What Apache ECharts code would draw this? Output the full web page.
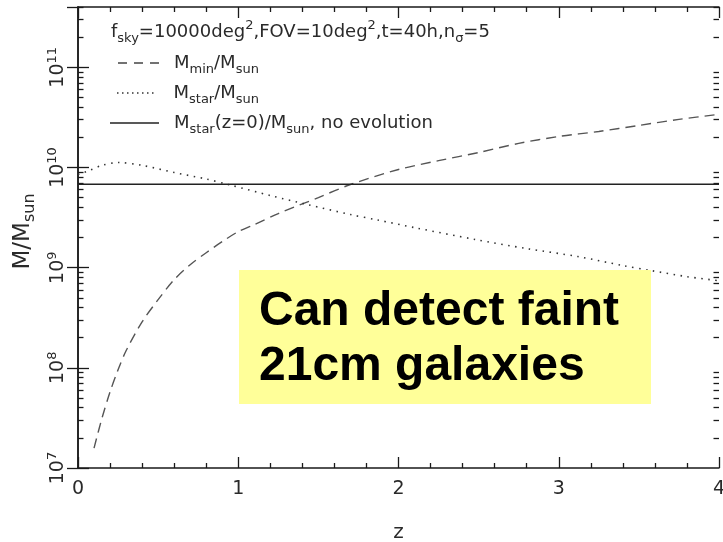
<!DOCTYPE html>
<html><head><meta charset="utf-8">
<script src="https://cdn.jsdelivr.net/npm/echarts@6/dist/echarts.min.js"></script>
<style>html,body{margin:0;padding:0;background:#fff}#c{width:723px;height:542px}</style>
</head><body><div id="c"></div>
<script>
// ---- data ----
const zMin = [0.1,0.15,0.2,0.25,0.3,0.4,0.5,0.6,0.7,0.8,0.9,1.0,1.1,1.25,1.5,1.7,2.0,2.25,2.5,2.75,3.0,3.25,3.5,3.75,4.0];
const mMin = [1.58e7,3.16e7,5.75e7,9.55e7,1.48e8,2.88e8,4.79e8,7.59e8,1.07e9,1.41e9,1.82e9,2.29e9,2.69e9,3.47e9,5.01e9,6.76e9,9.55e9,1.17e10,1.41e10,1.74e10,2.04e10,2.29e10,2.63e10,3.02e10,3.39e10];
const zStar = [0.0,0.07,0.15,0.25,0.4,0.6,0.8,0.95,1.2,1.43,1.7,1.87,2.1,2.48,2.8,3.12,3.4,3.58,3.8,4.0];
const mStar = [8.51e9,9.33e9,1.05e10,1.12e10,1.05e10,8.91e9,7.67e9,6.68e9,5.25e9,4.27e9,3.39e9,2.99e9,2.51e9,1.91e9,1.55e9,1.29e9,1.05e9,9.33e8,8.13e8,7.41e8];
const zFlat = [0, 4];
const mFlat = [6.8e9, 6.8e9];
const xTicks = [0, 1, 2, 3, 4];
const yMinVal = 1e7, yMaxVal = 4e11;
const seriesNames = ['Mmin', 'Mstar', 'Mstar0'];
const legendLabels = {
  Mmin: '{f|M}{sb|min}{n|/M}{sb|sun}',
  Mstar: '{f|M}{sb|star}{n|/M}{sb|sun}',
  Mstar0: '{f|M}{sb|star}{n|(z=0)/M}{sb|sun}{n|, no evolution}'
};
const headerText = '{n|f}{sb|sky}{n|=10000deg}{sp|2}{n|,FOV=10deg}{sp|2}{n|,t=40h,n}{sb|σ}{n|=5}';
const boxLines = ['Can detect faint', '21cm galaxies'];

// ---- helpers ----
const FF = 'DejaVu Sans';
const TXT = '#2a2a2a';
const AX = '#1a1a1a';
const pair = (xs, ys) => xs.map((x, i) => [x, ys[i]]);
const minorLogs = [];
for (let d = 7; d <= 11; d++) for (let k = 2; k <= 9; k++) {
  const v = Math.log10(k) + d;
  if (v <= Math.log10(yMaxVal) + 1e-9) minorLogs.push(v);
}
function dotsPath(n, step, w) {
  let p = 'path://';
  for (let i = 0; i < n; i++) p += 'M' + (i * step) + ',0h' + w + 'v1h-' + w + 'z';
  return p;
}
const legendRich = (padLeft) => ({
  f: {fontFamily: FF, fontSize: 18, fontWeight: 'normal', lineHeight: 26, color: TXT, padding: [0, 0, 0, padLeft]},
  n: {fontFamily: FF, fontSize: 18, fontWeight: 'normal', lineHeight: 26, color: TXT},
  sb: {fontFamily: FF, fontSize: 13, fontWeight: 'normal', lineHeight: 10, verticalAlign: 'bottom', color: TXT}
});
function mkLegend(name, icon, left, top, w, pad, color) {
  return {
    data: [{name: name, icon: icon, itemStyle: {color: color}}],
    left: left, top: top, padding: 0, itemWidth: w, itemHeight: 1.5,
    symbolKeepAspect: false, selectedMode: false,
    formatter: n => legendLabels[n],
    textStyle: {rich: legendRich(pad)}
  };
}
const tickStyle = {color: AX, width: 1.3};
function xAxisDef(pos, showLabel) {
  return {
    type: 'value', min: 0, max: 4, interval: 1, position: pos,
    axisLine: {show: true, lineStyle: {color: AX, width: 1.5}},
    axisTick: {show: true, inside: true, length: 11, lineStyle: tickStyle},
    minorTick: {show: true, splitNumber: 5, length: 5, lineStyle: tickStyle},
    splitLine: {show: false}, minorSplitLine: {show: false},
    axisLabel: {show: showLabel, margin: 12, fontSize: 19, color: TXT, fontFamily: FF,
      formatter: v => xTicks.indexOf(v) >= 0 ? String(v) : ''},
    name: showLabel ? 'z' : '', nameLocation: 'middle', nameGap: 55,
    nameTextStyle: {fontSize: 20, color: TXT, fontFamily: FF}
  };
}
function yLogDef(pos, showLabel) {
  return {
    type: 'log', logBase: 10, min: yMinVal, max: yMaxVal, position: pos,
    axisLine: {show: true, lineStyle: {color: AX, width: 1.5}},
    axisTick: {show: true, inside: true, length: 11, lineStyle: tickStyle},
    splitLine: {show: false},
    axisLabel: {show: showLabel, rotate: 90, margin: 8, showMaxLabel: false,
      formatter: v => {
        const e = v > 1000 ? Math.log10(v) : v;
        if (Math.abs(e - Math.round(e)) > 0.01) return '';
        return '{b|10}{s|' + Math.round(e) + '}';
      },
      rich: {
        b: {fontFamily: FF, fontSize: 19, lineHeight: 24, color: TXT},
        s: {fontFamily: FF, fontSize: 13, lineHeight: 10, verticalAlign: 'top', color: TXT}
      }},
    name: showLabel ? '{f|M/M}{sb|sun}' : '', nameLocation: 'middle', nameGap: 39,
    nameTextStyle: {rich: {
      f: {fontFamily: FF, fontSize: 23, lineHeight: 30, color: TXT, padding: [0, 0, 0, 12]},
      sb: {fontFamily: FF, fontSize: 16, lineHeight: 11, verticalAlign: 'bottom', color: TXT}
    }}
  };
}
function yMinorDef(pos) {
  return {
    type: 'value', min: 7, max: Math.log10(yMaxVal), position: pos,
    axisLine: {show: false}, splitLine: {show: false}, axisLabel: {show: false},
    axisTick: {show: true, inside: true, length: 5.5, lineStyle: tickStyle, customValues: minorLogs}
  };
}

const chart = echarts.init(document.getElementById('c'), null, {renderer: 'canvas'});
chart.setOption({
  animation: false,
  backgroundColor: '#fff',
  textStyle: {fontFamily: FF},
  grid: {left: 78, right: 4, top: 7, bottom: 74, containLabel: false, outerBoundsMode: 'none'},
  title: {
    text: headerText, left: 111, top: 19.5, padding: 0,
    textStyle: {fontWeight: 'normal', fontSize: 18, fontFamily: FF, color: TXT, rich: {
      n: {fontFamily: FF, fontSize: 18, fontWeight: 'normal', lineHeight: 26, color: TXT},
      sb: {fontFamily: FF, fontSize: 13, fontWeight: 'normal', lineHeight: 10, verticalAlign: 'bottom', color: TXT},
      sp: {fontFamily: FF, fontSize: 13, fontWeight: 'normal', lineHeight: 10, verticalAlign: 'top', color: TXT}
    }}
  },
  legend: [
    mkLegend('Mmin', 'path://M0,0h9v1h-9zM16,0h9v1h-9zM32,0h9v1h-9z', 118, 54, 41, 10, '#444'),
    mkLegend('Mstar', dotsPath(8, 5, 1.5), 117, 84, 36.5, 15, '#333'),
    mkLegend('Mstar0', 'path://M0,0h49v1h-49z', 110, 114, 49, 10, '#222')
  ],
  xAxis: [xAxisDef('bottom', true), xAxisDef('top', false)],
  yAxis: [yLogDef('left', true), yLogDef('right', false), yMinorDef('left'), yMinorDef('right')],
  series: [
    {name: seriesNames[0], type: 'line', xAxisIndex: 0, yAxisIndex: 0, data: pair(zMin, mMin),
     symbol: 'none', showSymbol: false, smooth: 0.3, silent: true,
     lineStyle: {color: '#555', width: 1.4, type: [10, 6]}, itemStyle: {color: '#555'}},
    {name: seriesNames[1], type: 'line', xAxisIndex: 0, yAxisIndex: 0, data: pair(zStar, mStar),
     symbol: 'none', showSymbol: false, smooth: 0.3, silent: true,
     lineStyle: {color: '#333', width: 1.6, type: [1.5, 5.5]}, itemStyle: {color: '#333'}},
    {name: seriesNames[2], type: 'line', xAxisIndex: 0, yAxisIndex: 0, data: pair(zFlat, mFlat),
     symbol: 'none', showSymbol: false, silent: true,
     lineStyle: {color: '#222', width: 1.5, type: 'solid'}, itemStyle: {color: '#222'}}
  ],
  graphic: [
    {type: 'rect', z: 100, shape: {x: 239, y: 270, width: 412, height: 134}, style: {fill: '#FFFF99'}},
    {type: 'text', z: 101, x: 259, y: 312, style: {text: boxLines[0], fontFamily: 'Liberation Sans', fontWeight: 'bold', fontSize: 48, fill: '#000', verticalAlign: 'middle'}},
    {type: 'text', z: 101, x: 259, y: 367, style: {text: boxLines[1], fontFamily: 'Liberation Sans', fontWeight: 'bold', fontSize: 48, fill: '#000', verticalAlign: 'middle'}}
  ]
});
</script>
</body></html>
